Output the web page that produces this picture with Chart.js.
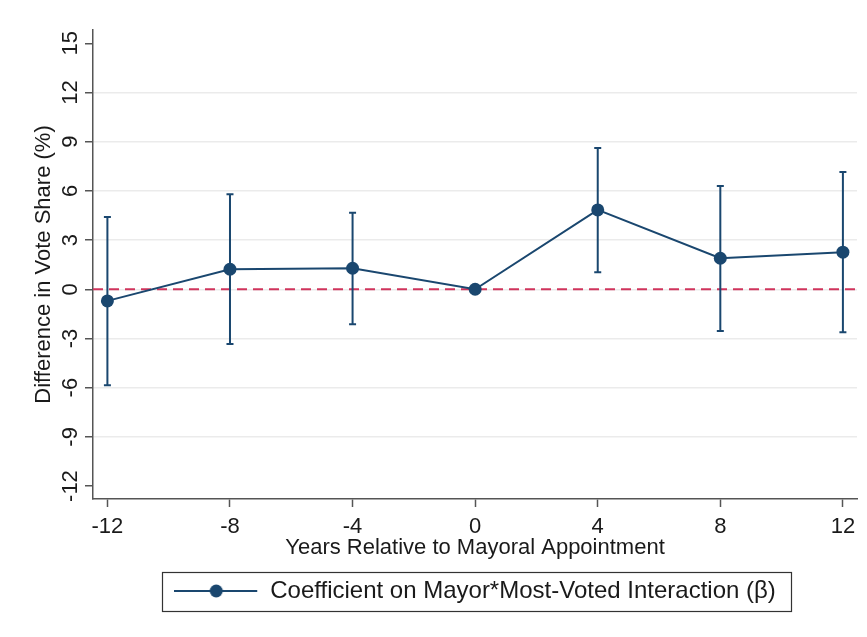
<!DOCTYPE html>
<html>
<head>
<meta charset="utf-8">
<title>Vote share difference by years relative to mayoral appointment</title>
<script src="https://cdn.jsdelivr.net/npm/chart.js@4"></script>
<style>
  html, body { margin: 0; padding: 0; background: #ffffff; }
  #wrap { width: 867px; height: 637px; }
</style>
</head>
<body>
<div id="wrap"><canvas id="chart" width="867" height="637"></canvas></div>
<script>
// Event-study estimates: years relative to appointment, point estimate and 95% CI
const years   = [-12, -8, -4, 0, 4, 8, 12];
const coef    = [-0.71, 1.22, 1.28, 0.00, 4.84, 1.89, 2.26];
const ciLower = [-5.85, -3.34, -2.13, null, 1.04, -2.54, -2.62];
const ciUpper = [4.41, 5.79, 4.67, null, 8.62, 6.30, 7.15];

// Axis ticks
const xTicks = [-12, -8, -4, 0, 4, 8, 12];
const yTicks = [-12, -9, -6, -3, 0, 3, 6, 9, 12, 15];

const NAVY = '#1a476f';
const RED = '#d0345c';
const TEXT = '#1a1a1a';
const AXIS = '#555555';
const FONT = "'Liberation Sans', Arial, Helvetica, sans-serif";

Chart.defaults.font.family = FONT;
Chart.defaults.color = TEXT;

// Legend key: a short line with a marker in the middle
const key = document.createElement('canvas');
key.width = 84;
key.height = 16;
(function () {
  const c = key.getContext('2d');
  c.strokeStyle = NAVY;
  c.lineWidth = 2;
  c.beginPath();
  c.moveTo(0, 8);
  c.lineTo(83, 8);
  c.stroke();
  c.fillStyle = NAVY;
  c.beginPath();
  c.arc(42, 8, 6.5, 0, Math.PI * 2);
  c.fill();
})();

// Dashed reference line at zero and the confidence-interval whiskers
const intervalPlugin = {
  id: 'intervals',
  beforeDatasetsDraw(chart) {
    const {ctx, chartArea, scales: {x, y}} = chart;
    ctx.save();
    const y0 = y.getPixelForValue(0);
    ctx.strokeStyle = RED;
    ctx.lineWidth = 2;
    ctx.setLineDash([10, 6]);
    ctx.beginPath();
    ctx.moveTo(chartArea.left, y0);
    ctx.lineTo(chartArea.right, y0);
    ctx.stroke();
    ctx.setLineDash([]);

    ctx.strokeStyle = NAVY;
    ctx.lineWidth = 2;
    const cap = 3.5;
    years.forEach((yr, i) => {
      if (ciLower[i] === null || ciUpper[i] === null) return;
      const px = x.getPixelForValue(yr);
      const lo = y.getPixelForValue(ciLower[i]);
      const hi = y.getPixelForValue(ciUpper[i]);
      ctx.beginPath();
      ctx.moveTo(px, lo);
      ctx.lineTo(px, hi);
      ctx.moveTo(px - cap, lo);
      ctx.lineTo(px + cap, lo);
      ctx.moveTo(px - cap, hi);
      ctx.lineTo(px + cap, hi);
      ctx.stroke();
    });
    ctx.restore();
  }
};

// Frame around the legend entry
const legendFrame = {
  id: 'legendFrame',
  afterDraw(chart) {
    const lg = chart.legend;
    if (!lg || !lg.legendHitBoxes || !lg.legendHitBoxes.length) return;
    const hb = lg.legendHitBoxes[0];
    const ctx = chart.ctx;
    ctx.save();
    ctx.strokeStyle = '#333333';
    ctx.lineWidth = 1.2;
    const l = hb.left - 12, t = hb.top - 7, r = hb.left + hb.width + 15, b = hb.top + hb.height + 8;
    ctx.strokeRect(Math.round(l) + 0.5, Math.round(t) + 0.5, Math.round(r - l), Math.round(b - t));
    ctx.restore();
  }
};

new Chart(document.getElementById('chart'), {
  type: 'line',
  data: {
    datasets: [{
      label: 'Coefficient on Mayor*Most-Voted Interaction (β)',
      data: years.map((yr, i) => ({x: yr, y: coef[i]})),
      borderColor: NAVY,
      borderWidth: 2,
      backgroundColor: NAVY,
      pointBackgroundColor: NAVY,
      pointBorderColor: NAVY,
      pointBorderWidth: 0,
      pointRadius: 6.5,
      pointHoverRadius: 6.5,
      tension: 0,
      fill: false
    }]
  },
  options: {
    responsive: false,
    animation: false,
    devicePixelRatio: 1,
    layout: { padding: { top: 30, right: 10, bottom: 24, left: 0 } },
    scales: {
      x: {
        type: 'linear',
        min: -12.47,
        max: 12.46,
        afterBuildTicks(scale) { scale.ticks = xTicks.map(v => ({value: v})); },
        afterFit(scale) { scale.height = 70; },
        ticks: {
          autoSkip: false,
          maxRotation: 0,
          padding: 7,
          color: TEXT,
          font: { size: 22 },
          callback: v => String(v)
        },
        grid: {
          drawOnChartArea: false,
          drawTicks: true,
          tickLength: 8,
          tickColor: AXIS,
          tickWidth: 1.5
        },
        border: { display: true, color: AXIS, width: 1.5 },
        title: {
          display: true,
          text: 'Years Relative to Mayoral Appointment',
          color: TEXT,
          font: { size: 22 },
          padding: { top: 0, bottom: 8 }
        }
      },
      y: {
        type: 'linear',
        min: -12.79,
        max: 15.81,
        afterBuildTicks(scale) { scale.ticks = yTicks.map(v => ({value: v})); },
        afterFit(scale) { scale.width = 93; },
        ticks: {
          autoSkip: false,
          minRotation: 90,
          maxRotation: 90,
          crossAlign: 'center',
          padding: -2,
          color: TEXT,
          font: { size: 22 },
          callback: v => String(v)
        },
        grid: {
          drawTicks: true,
          tickLength: 8,
          tickColor: AXIS,
          tickWidth: 1.5,
          lineWidth: 1.5,
          color: ctx => (ctx.tick && (ctx.tick.value === yTicks[0] || ctx.tick.value === yTicks[yTicks.length - 1])) ? 'rgba(0,0,0,0)' : '#ebebeb'
        },
        border: { display: true, color: AXIS, width: 1.5 },
        title: {
          display: true,
          text: 'Difference in Vote Share (%)',
          color: TEXT,
          font: { size: 22 },
          padding: { top: 31, bottom: 0 }
        }
      }
    },
    plugins: {
      legend: {
        position: 'bottom',
        fullSize: false,
        labels: {
          usePointStyle: true,
          pointStyle: key,
          pointStyleWidth: 84,
          boxHeight: 16,
          padding: 10,
          color: TEXT,
          font: { size: 24 }
        }
      },
      tooltip: { enabled: false }
    }
  },
  plugins: [intervalPlugin, legendFrame]
});
</script>
</body>
</html>
